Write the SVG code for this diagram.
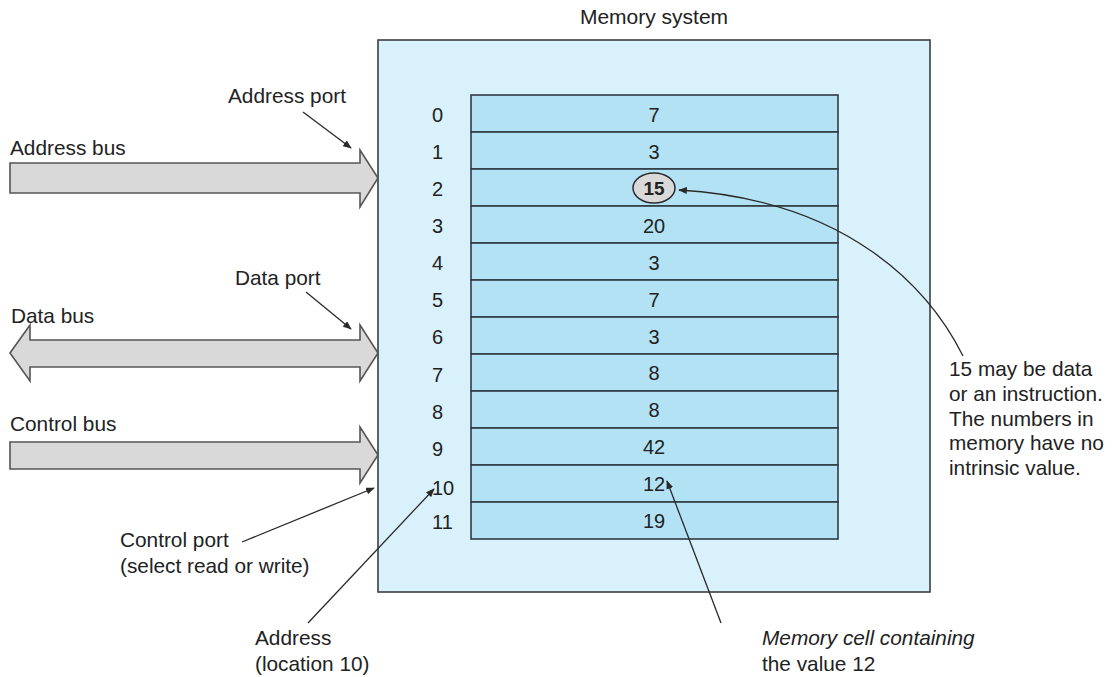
<svg xmlns="http://www.w3.org/2000/svg" width="1115" height="677" viewBox="0 0 1115 677">
  <style>
    text { font-family: "Liberation Sans", Arial, Helvetica, sans-serif; font-size: 20.8px; fill: #222; }
    .idx { text-anchor: start; font-size: 20px; }
    .val { text-anchor: middle; font-size: 20px; }
    .it { font-style: italic; }
    .bus { fill: #d9d9d9; stroke: #555; stroke-width: 1.6; stroke-linejoin: miter; }
    .cell { fill: #b3e2f5; stroke: #2f3b44; stroke-width: 1.6; }
    .ptr { fill: none; stroke: #2a2a2a; stroke-width: 1.3; marker-end: url(#tip); }
  </style>
  <defs>
    <marker id="tip" viewBox="0 0 10 8" refX="9" refY="4" markerWidth="9" markerHeight="7" markerUnits="userSpaceOnUse" orient="auto">
      <path d="M0,0 L10,4 L0,8 z" fill="#2a2a2a"/>
    </marker>
  </defs>

  <rect width="1115" height="677" fill="#ffffff"/>

  <!-- memory system enclosure -->
  <g id="memory-system">
    <text x="654" y="24" text-anchor="middle" style="font-size:21px">Memory system</text>
    <rect x="378" y="40" width="552" height="552" fill="#d9f1fa" stroke="#3a3f44" stroke-width="1.6"/>
  </g>

  <!-- memory cells: 12 rows of 37px -->
  <g id="memory-cells">
    <rect class="cell" x="471" y="95" width="367" height="37"/>
    <rect class="cell" x="471" y="132" width="367" height="37"/>
    <rect class="cell" x="471" y="169" width="367" height="37"/>
    <rect class="cell" x="471" y="206" width="367" height="37"/>
    <rect class="cell" x="471" y="243" width="367" height="37"/>
    <rect class="cell" x="471" y="280" width="367" height="37"/>
    <rect class="cell" x="471" y="317" width="367" height="37"/>
    <rect class="cell" x="471" y="354" width="367" height="37"/>
    <rect class="cell" x="471" y="391" width="367" height="37"/>
    <rect class="cell" x="471" y="428" width="367" height="37"/>
    <rect class="cell" x="471" y="465" width="367" height="37"/>
    <rect class="cell" x="471" y="502" width="367" height="37"/>
  </g>

  <g id="addresses">
    <text class="idx" x="432" y="122">0</text>
    <text class="idx" x="432" y="159">1</text>
    <text class="idx" x="432" y="196">2</text>
    <text class="idx" x="432" y="233">3</text>
    <text class="idx" x="432" y="270">4</text>
    <text class="idx" x="432" y="307">5</text>
    <text class="idx" x="432" y="344">6</text>
    <text class="idx" x="432" y="382">7</text>
    <text class="idx" x="432" y="419">8</text>
    <text class="idx" x="432" y="456">9</text>
    <text class="idx" x="432" y="495">10</text>
    <text class="idx" x="432" y="529">11</text>
  </g>

  <g id="values">
    <text class="val" x="654" y="122">7</text>
    <text class="val" x="654" y="159">3</text>
    <ellipse cx="654" cy="188" rx="21" ry="15" fill="#d9d9d9" stroke="#2a2a2a" stroke-width="1.5"/>
    <text class="val" x="654" y="195" style="font-weight:bold;font-size:19px">15</text>
    <text class="val" x="654" y="233">20</text>
    <text class="val" x="654" y="270">3</text>
    <text class="val" x="654" y="307">7</text>
    <text class="val" x="654" y="344">3</text>
    <text class="val" x="654" y="380">8</text>
    <text class="val" x="654" y="417">8</text>
    <text class="val" x="654" y="454">42</text>
    <text class="val" x="654" y="491">12</text>
    <text class="val" x="654" y="528">19</text>
  </g>

  <!-- buses -->
  <g id="address-bus">
    <text x="10" y="155">Address bus</text>
    <polygon class="bus" points="10,163 360,163 360,150 378,178 360,207 360,193 10,193"/>
  </g>
  <g id="data-bus">
    <text x="11" y="323">Data bus</text>
    <polygon class="bus" points="10,353 30,325 30,340 360,340 360,325 378,353 360,381 360,367 30,367 30,381"/>
  </g>
  <g id="control-bus">
    <text x="10" y="431">Control bus</text>
    <polygon class="bus" points="10,442 360,442 360,427 378,455 360,483 360,469 10,469"/>
  </g>

  <!-- annotations -->
  <g id="address-port"><text x="228" y="103">Address port</text></g>
  <g id="data-port"><text x="235" y="285">Data port</text></g>
  <g id="control-port">
    <text x="120" y="547">Control port</text>
    <text x="120" y="573">(select read or write)</text>
  </g>
  <g id="address-label">
    <text x="255" y="645">Address</text>
    <text x="255" y="671">(location 10)</text>
  </g>
  <g id="cell-label">
    <text class="it" x="762" y="645">Memory cell containing</text>
    <text x="762" y="671">the value 12</text>
  </g>
  <g id="note">
    <text x="949" y="376">15 may be data</text>
    <text x="949" y="401">or an instruction.</text>
    <text x="949" y="426">The numbers in</text>
    <text x="949" y="450">memory have no</text>
    <text x="949" y="475">intrinsic value.</text>
  </g>

  <!-- connectors -->
  <g id="connectors">
    <line class="ptr" x1="303" y1="112" x2="351" y2="148"/>
    <line class="ptr" x1="306" y1="292" x2="351" y2="329"/>
    <line class="ptr" x1="242" y1="542" x2="374" y2="488"/>
    <line class="ptr" x1="308" y1="623" x2="434" y2="489"/>
    <line class="ptr" x1="721" y1="623" x2="667" y2="481"/>
    <path class="ptr" d="M963,356 C930,290 850,200 679,190"/>
  </g>
</svg>
